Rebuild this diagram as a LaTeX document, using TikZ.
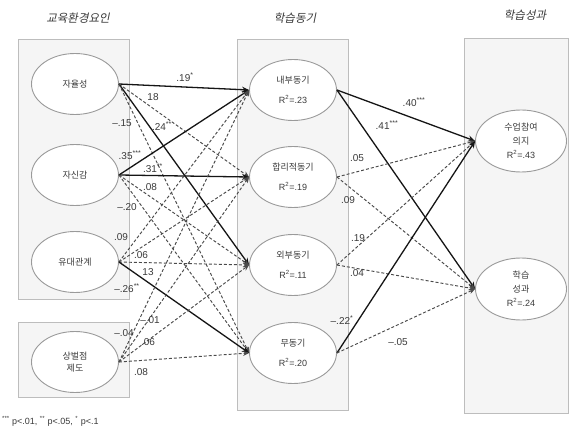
\documentclass[tikz,border=0pt]{standalone}
\usepackage{fontspec}
\setmainfont{Liberation Sans}
\newfontfamily\kr{Noto Sans CJK KR}
\newfontfamily\krit[FakeSlant=0.2]{Noto Sans CJK KR}
\usetikzlibrary{shapes.geometric,arrows.meta}
\definecolor{boxfill}{HTML}{F5F5F5}
\definecolor{boxline}{HTML}{BDBDBD}
\definecolor{elline}{HTML}{9A9A9A}
\definecolor{txt}{HTML}{3A3A3A}
\definecolor{solidc}{HTML}{151515}
\definecolor{dashc}{HTML}{4A4A4A}
\begin{document}
\begin{tikzpicture}[x=1pt,y=-1pt,
 panel/.style={draw=boxline,fill=boxfill,line width=0.9pt},
 ell/.style={ellipse,draw=elline,fill=white,line width=0.9pt,minimum width=87pt,minimum height=61pt,inner sep=0pt,align=center,text=txt,font=\fontsize{9}{11}\selectfont},
 ellr/.style={ell,minimum width=91pt,minimum height=62pt,font=\fontsize{9}{14}\selectfont},
 sig/.style={-{Stealth[length=7pt,width=6pt]},line width=1.3pt,draw=solidc},
 ns/.style={-{Stealth[length=6pt,width=5pt]},line width=0.95pt,draw=dashc,dash pattern=on 3pt off 2pt},
 coef/.style={text=txt,font=\fontsize{10}{11}\selectfont,inner sep=0pt},
 ttl/.style={text=txt,font=\krit\fontsize{11.5}{12}\selectfont,inner sep=0pt}]
\useasboundingbox[fill=white] (0,0) rectangle (572,430);

% panels
\path[panel] (18,39) rectangle (129,299);
\path[panel] (18,322) rectangle (129,397);
\path[panel] (237,39) rectangle (348,410);
\path[panel] (464,38) rectangle (568,413);

% titles
\node[ttl] (t1) at (78,18) {교육환경요인};
\node[ttl] (t2) at (295,18) {학습동기};
\node[ttl] (t3) at (525,15) {학습성과};

% left ellipses
\node[ell] (a1) at (75,84) {{\kr 자율성}};
\node[ell] (a2) at (75,175) {{\kr 자신감}};
\node[ell] (a3) at (75,262) {{\kr 유대관계}};
\node[ell] (a4) at (75,362) {{\kr 상벌점}\\[1pt]{\kr 제도}};

% middle ellipses
\node[ell] (m1) at (293,90) {{\kr 내부동기}\\[9pt]R\textsuperscript{2}=.23};
\node[ell] (m2) at (293,177) {{\kr 합리적동기}\\[9pt]R\textsuperscript{2}=.19};
\node[ell] (m3) at (293,265) {{\kr 외부동기}\\[9pt]R\textsuperscript{2}=.11};
\node[ell] (m4) at (293,353) {{\kr 무동기}\\[9pt]R\textsuperscript{2}=.20};

% right ellipses
\node[ellr] (r1) at (521,141) {{\kr 수업참여}\\{\kr 의지}\\R\textsuperscript{2}=.43};
\node[ellr] (r2) at (521,289) {{\kr 학습}\\{\kr 성과}\\R\textsuperscript{2}=.24};

% left -> middle
\draw[sig] (a1.east) -- (m1.west);
\draw[ns]  (a1.east) -- (m2.west);
\draw[sig] (a1.east) -- (m3.west);
\draw[ns]  (a1.east) -- (m4.west);
\draw[sig] (a2.east) -- (m1.west);
\draw[sig] (a2.east) -- (m2.west);
\draw[ns]  (a2.east) -- (m3.west);
\draw[ns]  (a2.east) -- (m4.west);
\draw[ns]  (a3.east) -- (m1.west);
\draw[ns]  (a3.east) -- (m2.west);
\draw[ns]  (a3.east) -- (m3.west);
\draw[sig] (a3.east) -- (m4.west);
\draw[ns]  (a4.east) -- (m1.west);
\draw[ns]  (a4.east) -- (m2.west);
\draw[ns]  (a4.east) -- (m3.west);
\draw[ns]  (a4.east) -- (m4.west);

% middle -> right
\draw[sig] (m1.east) -- (r1.west);
\draw[sig] (m1.east) -- (r2.west);
\draw[ns]  (m2.east) -- (r1.west);
\draw[ns]  (m2.east) -- (r2.west);
\draw[ns]  (m3.east) -- (r1.west);
\draw[ns]  (m3.east) -- (r2.west);
\draw[sig] (m4.east) -- (r1.west);
\draw[ns]  (m4.east) -- (r2.west);

% coefficients left -> middle
\node[coef] (c1)  at (185,77)  {.19\textsuperscript{*}};
\node[coef] (c2)  at (153,97)  {18};
\node[coef] (c3)  at (122,123) {–.15};
\node[coef] (c4)  at (162,126) {.24\textsuperscript{**}};
\node[coef] (c5)  at (130,155) {.35\textsuperscript{***}};
\node[coef] (c6)  at (153,168) {.31\textsuperscript{**}};
\node[coef] (c7)  at (150,187) {.08};
\node[coef] (c8)  at (127,207) {–.20};
\node[coef] (c9)  at (121,237) {.09};
\node[coef] (c10) at (141,255) {.06};
\node[coef] (c11) at (148,272) {13};
\node[coef] (c12) at (127,288) {–.26\textsuperscript{**}};
\node[coef] (c13) at (150,320) {–.01};
\node[coef] (c14) at (124,333) {–.04};
\node[coef] (c15) at (148,342) {.06};
\node[coef] (c16) at (141,372) {.08};

% coefficients middle -> right
\node[coef] (d1) at (414,102) {.40\textsuperscript{***}};
\node[coef] (d2) at (387,125) {.41\textsuperscript{***}};
\node[coef] (d3) at (357,158) {.05};
\node[coef] (d4) at (348,200) {.09};
\node[coef] (d5) at (358,238) {.19};
\node[coef] (d6) at (357,273) {.04};
\node[coef] (d7) at (342,320) {–.22\textsuperscript{*}};
\node[coef] (d8) at (398,342) {–.05};

% footnote
\node[coef,anchor=west,font=\fontsize{9}{10}\selectfont] (fn) at (2,421)
 {\textsuperscript{***} p<.01, \textsuperscript{**} p<.05, \textsuperscript{*} p<.1};
\end{tikzpicture}
\end{document}
